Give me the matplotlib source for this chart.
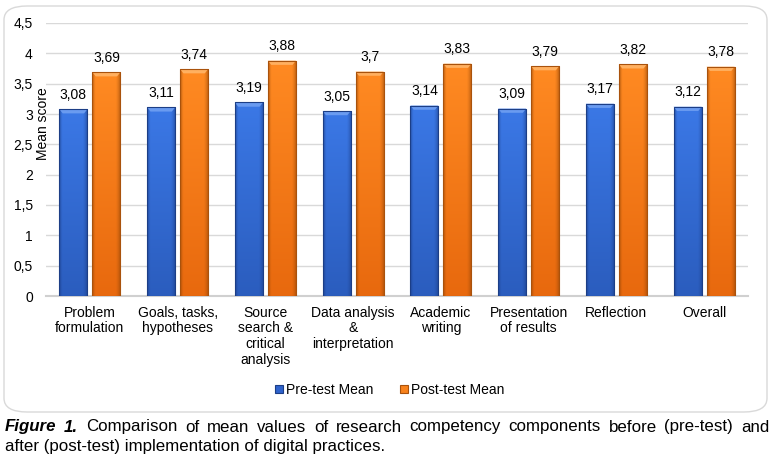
import numpy as np
import matplotlib.pyplot as plt
from matplotlib.colors import to_rgb
from matplotlib.patches import FancyBboxPatch, Polygon

plt.rcParams['font.family'] = ['Liberation Sans', 'DejaVu Sans']

categories = ['Problem\nformulation', 'Goals, tasks,\nhypotheses', 'Source\nsearch &\ncritical\nanalysis',
              'Data analysis\n&\ninterpretation', 'Academic\nwriting', 'Presentation\nof results',
              'Reflection', 'Overall']
pre_test = [3.08, 3.11, 3.19, 3.05, 3.14, 3.09, 3.17, 3.12]
post_test = [3.69, 3.74, 3.88, 3.70, 3.83, 3.79, 3.82, 3.78]
yticks = [0, 0.5, 1, 1.5, 2, 2.5, 3, 3.5, 4, 4.5]


def fmt(v):
    s = ('%.2f' % v).rstrip('0').rstrip('.')
    return s.replace('.', ',')


def shade_bar(ax, rect, top, bottom, edge, bevel):
    # fill a bar with a soft vertical / horizontal gradient
    x0, w, h = rect.get_x(), rect.get_width(), rect.get_height()
    top, bottom, edge = map(np.array, map(to_rgb, (top, bottom, edge)))
    ny, nx = 60, 30
    t = np.linspace(1, 0, ny)[:, None, None]
    u = np.linspace(0, 1, nx)[None, :, None]
    base = bottom + (top - bottom) * t
    d = np.clip(1 - np.minimum(u / 0.12, (1 - u) / 0.18), 0, 1) ** 1.5
    img = base * (1 - 0.6 * d) + edge * 0.6 * d
    im = ax.imshow(img, extent=(x0, x0 + w, 0, h), aspect='auto', zorder=3,
                   interpolation='bilinear')
    im.set_clip_path(rect)
    rect.set_facecolor('none')
    # bevelled top
    bh = 0.07
    poly = Polygon([(x0, h), (x0 + w, h), (x0 + w * 0.88, h - bh), (x0 + w * 0.12, h - bh)],
                   closed=True, facecolor=bevel, edgecolor='none', zorder=4)
    ax.add_patch(poly)


fig = plt.figure(figsize=(7.75, 4.57), dpi=100)

# rounded chart border
box = FancyBboxPatch((4 / 775, 1 - 412 / 457), 763 / 775, 406 / 457,
                     boxstyle='round,pad=0,rounding_size=0.03',
                     transform=fig.transFigure, facecolor='white',
                     edgecolor='#D9D9D9', linewidth=1.0, zorder=-5)
fig.patches.append(box)

ax = fig.add_axes([46 / 775, 1 - 296 / 457, 702 / 775, 273 / 457])
ax.set_zorder(2)
ax.set_facecolor('none')

x = np.arange(len(categories))
w = 0.32
off = 0.188
b1 = ax.bar(x - off, pre_test, w, color='#2F63CC', edgecolor='#1C3E86', linewidth=0.8,
            label='Pre-test Mean', zorder=5)
b2 = ax.bar(x + off, post_test, w, color='#F8821C', edgecolor='#A9520C', linewidth=0.8,
            label='Post-test Mean', zorder=5)

for r in b1:
    shade_bar(ax, r, '#3B78E6', '#2B5DBE', '#1A3A80', '#6A9BF0')
for r in b2:
    shade_bar(ax, r, '#FF8A22', '#E8690E', '#8E4306', '#FFB060')

for xi, v in zip(x - off, pre_test):
    ax.text(xi, v + 0.12, fmt(v), ha='center', va='bottom', fontsize=10)
for xi, v in zip(x + off, post_test):
    ax.text(xi, v + 0.12, fmt(v), ha='center', va='bottom', fontsize=10)

ax.set_xlim(-0.5, len(categories) - 0.5)
ax.set_ylim(0, 4.5)
ax.set_yticks(yticks)
ax.set_yticklabels([fmt(t) for t in yticks], fontsize=10)
ax.set_xticks(x)
ax.set_xticklabels(categories, fontsize=10, linespacing=1.15)
ax.tick_params(axis='y', length=0, pad=9.5)
ax.tick_params(axis='x', length=0, pad=7)
ax.grid(axis='y', color='#D9D9D9', linewidth=1, zorder=0)
ax.set_axisbelow(True)
for s in ['top', 'right', 'left']:
    ax.spines[s].set_visible(False)
ax.spines['bottom'].set_color('#D0D0D0')
ax.spines['bottom'].set_linewidth(1.5)

ax.set_ylabel('Mean score', fontsize=10, labelpad=0)
ax.yaxis.set_label_coords(0.006, 0.63)

fig.legend(handles=[b1, b2], loc='center', bbox_to_anchor=(390 / 775, 1 - 390 / 457),
           ncol=2, frameon=False, fontsize=10, handlelength=0.55, handleheight=0.55,
           handletextpad=0.25, columnspacing=1.9)
leg = fig.legends[0]
for h, c in zip(leg.legend_handles, ('#2F63CC', '#F8821C')):
    h.set_facecolor(c)

# justified caption
fig.canvas.draw()
renderer = fig.canvas.get_renderer()
left_px, right_px = 5, 769
line1 = [('Figure', 'bold'), ('1.', 'bold')] + [(wd, 'normal') for wd in
         'Comparison of mean values of research competency components before (pre-test) and'.split()]
y1 = 1 - 427 / 457
texts = []
for wd, wt in line1:
    t = fig.text(0, y1, wd, fontsize=12.2, fontweight=wt,
                 fontstyle='italic' if wt == 'bold' else 'normal', va='center')
    texts.append(t)
widths = [t.get_window_extent(renderer).width for t in texts]
gap = (right_px - left_px - sum(widths)) / (len(texts) - 1)
xpos = left_px
for t, wd in zip(texts, widths):
    t.set_x(xpos / 775)
    xpos += wd + gap
fig.text(left_px / 775, 1 - 446 / 457,
         'after (post-test) implementation of digital practices.',
         fontsize=12.2, va='center')

fig.savefig('out.png', dpi=100)
